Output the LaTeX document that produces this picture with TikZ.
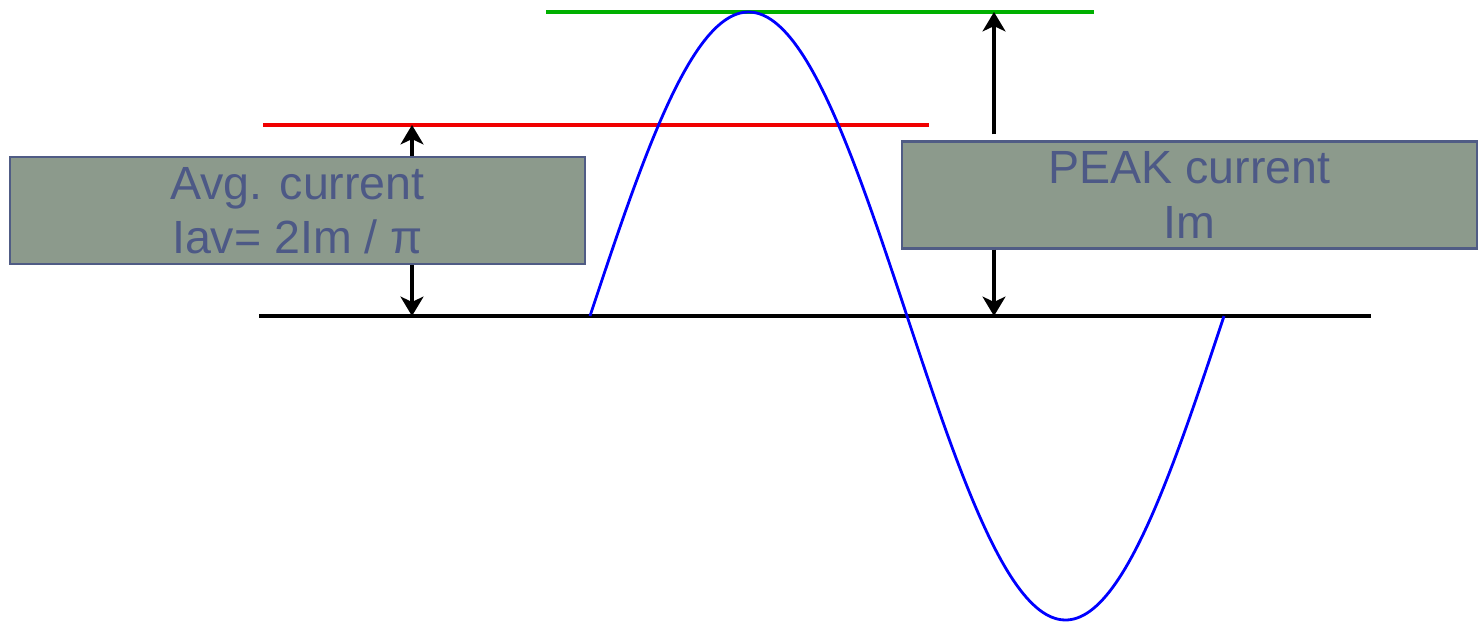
\documentclass[tikz,border=0pt]{standalone}
\usepackage{fontspec}
\setmainfont{Liberation Sans}
\usetikzlibrary{arrows.meta, positioning}
\definecolor{boxfill}{HTML}{8C9A8C}
\definecolor{boxborder}{HTML}{505C85}
\definecolor{boxtext}{HTML}{4D5986}
\definecolor{peakgreen}{HTML}{00B000}
\definecolor{avgred}{HTML}{F00000}
\definecolor{wave}{HTML}{0000FF}

\begin{document}
\begin{tikzpicture}[
    x=0.02cm, y=-0.02cm,
    labelbox/.style={rectangle, fill=boxfill, draw=boxborder, line width=1.2pt, minimum width=11.5cm, minimum height=2.14cm, align=center, inner sep=0pt, text=boxtext, font=\fontsize{26.5}{31}\selectfont},
    level/.style={line width=2pt},
    arr/.style={black, line width=2pt, -{Stealth[length=11pt, width=13pt, inset=3pt]}}
]
\useasboundingbox (0,0) rectangle (1480,627);

% Axis
\coordinate (axisL) at (259,316);
\coordinate (axisR) at (1371,316);
\draw[level, black] (axisL) -- (axisR);

% Peak and average levels
\coordinate (peakL) at (546,12);
\coordinate (peakR) at (1094,12);
\draw[level, peakgreen] (peakL) -- (peakR);
\coordinate (avgL) at (263,125);
\coordinate (avgR) at (929,125);
\draw[level, avgred] (avgL) -- (avgR);

% Sine wave
\draw[wave, line width=1.6pt] plot[domain=0:634, samples=200] ({590+\x},{316-304*sin(\x/634*360)});

% Labels
\node[labelbox] (avg) at (297.5,210.5) {Avg. current\\Iav= 2Im / π};
\node[labelbox] (peak) at (1189.5,195) {PEAK current\\Im};

% Arrows to the levels
\coordinate (avgtop) at (412,125);
\coordinate (avgbot) at (412,316);
\draw[arr] (avg.north -| avgtop) -- (avgtop);
\draw[arr] (avg.south -| avgbot) -- (avgbot);
\coordinate (peaktop) at (994,12);
\coordinate (peakbot) at (994,316);
\draw[arr, shorten <=0.12cm] (peak.north -| peaktop) -- (peaktop);
\draw[arr] (peak.south -| peakbot) -- (peakbot);

\end{tikzpicture}
\end{document}
